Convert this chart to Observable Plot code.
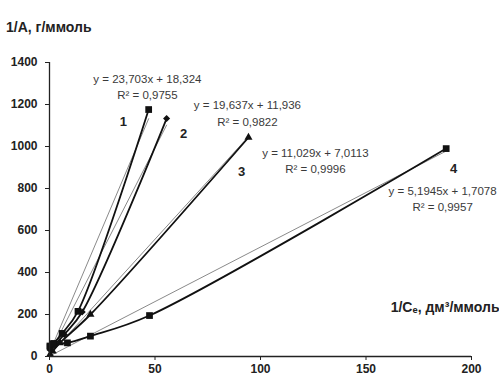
<!DOCTYPE html>
<html><head><meta charset="utf-8">
<script src="https://cdn.jsdelivr.net/npm/d3@7"></script>
<script src="https://cdn.jsdelivr.net/npm/@observablehq/plot@0.6"></script>
<style>
body{margin:0;background:#fff;font-family:"Liberation Sans",Arial,sans-serif;}
#title{height:40px;box-sizing:border-box;padding:20px 0 0 6px;font-weight:bold;font-size:14px;line-height:14px;color:#222;}
</style></head><body>
<div id="title">1/A, г/ммоль</div>
<div id="chart"></div>
<script>
const series1x = [0.3, 2, 6, 13.5, 47];
const series1y = [45, 62, 110, 215, 1176];
const series2x = [0.5, 2.5, 7, 15.5, 55.5];
const series2y = [30, 55, 105, 212, 1133];
const series3x = [0.3, 1.5, 5, 19.4, 94.3];
const series3y = [10, 25, 65, 200, 1043];
const series4x = [0.2, 1.5, 8.5, 19.4, 47.4, 188];
const series4y = [50, 60, 65, 97, 195, 990];
const slopes = [23.703, 19.637, 11.029, 5.1945];
const intercepts = [18.324, 11.936, 7.0113, 1.7078];
const equations = ["y = 23,703x + 18,324\nR² = 0,9755", "y = 19,637x + 11,936\nR² = 0,9822", "y = 11,029x + 7,0113\nR² = 0,9996", "y = 5,1945x + 1,7078\nR² = 0,9957"];
const eqX = [46.4, 93.8, 126, 186.3];
const eqY = [1290, 1162, 938, 757];
const seriesNames = ["1", "2", "3", "4"];
const nameX = [35, 63.5, 91, 191.5];
const nameY = [1119, 1062, 881, 895];
const symbols = ["square", "diamond2", "triangle", "square"];
const symbolR = [3.8, 3.2, 3.0, 3.8];
const xTicks = [0, 50, 100, 150, 200];
const yTicks = [0, 200, 400, 600, 800, 1000, 1200, 1400];

const xs = [series1x, series2x, series3x, series4x];
const ys = [series1y, series2y, series3y, series4y];
const pts = [];
xs.forEach((arr, s) => arr.forEach((x, i) => pts.push({s, x, y: ys[s][i]})));
const trend = [];
xs.forEach((arr, s) => {
  const x0 = d3.min(arr), x1 = d3.max(arr);
  [x0, x1].forEach(x => trend.push({s, x, y: slopes[s] * x + intercepts[s]}));
});
const eqs = equations.map((t, i) => ({t, x: eqX[i], y: eqY[i]}));
const names = seriesNames.map((t, i) => ({t, x: nameX[i], y: nameY[i]}));

const plot = Plot.plot({
  width: 499, height: 338,
  marginLeft: 49, marginRight: 28, marginTop: 22, marginBottom: 22,
  style: {fontFamily: "Liberation Sans, Arial, sans-serif", background: "#fff", color: "#222"},
  x: {domain: [0, 200]},
  y: {domain: [0, 1400]},
  marks: [
    Plot.line(trend, {x: "x", y: "y", z: "s", stroke: "#8a8a8a", strokeWidth: 1}),
    Plot.line(pts, {x: "x", y: "y", z: "s", stroke: "#111", strokeWidth: 1.8, curve: "catmull-rom"}),
    ...[0,1,2,3].map(s => Plot.dot(pts.filter(d => d.s === s), {x: "x", y: "y", symbol: () => symbols[s], fill: "#111", r: symbolR[s]})),
    Plot.ruleX([0], {y1: 0, y2: 1400, stroke: "#222", strokeWidth: 1.3}),
    Plot.ruleY([0], {x1: 0, x2: 200, stroke: "#222", strokeWidth: 1.3}),
    Plot.axisY({ticks: yTicks, tickFormat: d => String(d), tickSize: 4, tickPadding: 8, fontSize: 12, fontWeight: "bold", label: null, stroke: "#222"}),
    Plot.axisX({ticks: xTicks, tickFormat: d => String(d), tickSize: 4, tickPadding: 4, fontSize: 12, fontWeight: "bold", label: null, stroke: "#222"}),
    Plot.text(eqs, {x: "x", y: "y", text: "t", fontSize: 11.5, fill: "#3a3a3a", lineHeight: 1.45, textAnchor: "middle"}),
    Plot.text(names, {x: "x", y: "y", text: "t", fontSize: 13, fontWeight: "bold", fill: "#222"}),
    Plot.text(["1/Cₑ, дм³/ммоль"], {x: 200, y: 233, dx: 28, textAnchor: "end", fontSize: 14, fontWeight: "bold", fill: "#222"})
  ]
});
document.getElementById("chart").appendChild(plot);
</script></body></html>
